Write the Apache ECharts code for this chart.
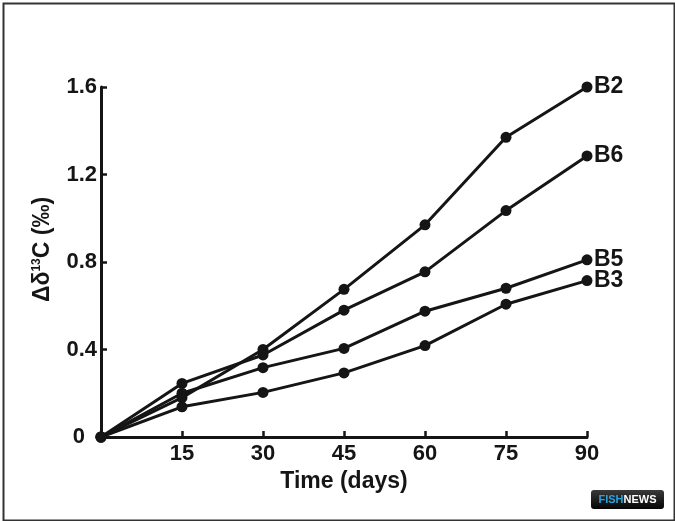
<!DOCTYPE html>
<html>
<head>
<meta charset="utf-8">
<script src="https://cdn.jsdelivr.net/npm/echarts@6/dist/echarts.min.js"></script>
<style>
  html, body { margin: 0; padding: 0; background: #fff; }
  #chart { width: 675px; height: 521px; }
</style>
</head>
<body>
<div id="chart"></div>
<script>
// Sampling days and the measured shift for each group
const days = [0, 15, 30, 45, 60, 75, 90];
const seriesNames = ['B2', 'B6', 'B5', 'B3'];
const b2 = [0, 0.18, 0.40, 0.675, 0.97, 1.37, 1.60];
const b6 = [0, 0.245, 0.375, 0.58, 0.755, 1.035, 1.285];
const b5 = [0, 0.20, 0.317, 0.405, 0.575, 0.68, 0.81];
const b3 = [0, 0.138, 0.204, 0.293, 0.418, 0.607, 0.715];
const xTicks = [15, 30, 45, 60, 75, 90];
const yTicks = [0, 0.4, 0.8, 1.2, 1.6];

const chart = echarts.init(document.getElementById('chart'));
const ink = '#151515';
const font = '"Liberation Sans", Arial, sans-serif';

// Pair up days with values for a value-type x axis
function pairs(values) {
  return values.map((v, i) => [days[i], v]);
}

const option = {
  backgroundColor: '#fff',
  animation: false,
  grid: { left: 101, right: 88, top: 87, bottom: 84 },
  xAxis: {
    type: 'value',
    min: 0,
    max: 90,
    interval: 15,
    name: 'Time (days)',
    nameLocation: 'middle',
    nameGap: 33,
    nameTextStyle: { color: ink, fontFamily: font, fontWeight: 'bold', fontSize: 23 },
    axisLine: { lineStyle: { color: ink, width: 3 } },
    axisTick: { inside: true, length: 6, lineStyle: { color: ink, width: 2.5 } },
    axisLabel: {
      color: ink, fontFamily: font, fontWeight: 'bold', fontSize: 22, margin: 6,
      formatter: v => (xTicks.indexOf(v) >= 0 ? String(v) : '')
    },
    splitLine: { show: false }
  },
  yAxis: {
    type: 'value',
    min: 0,
    max: 1.6,
    interval: 0.4,
    name: '{n|Δδ}{s|13}{n|C (‰)}',
    nameLocation: 'middle',
    nameGap: 47,
    nameRotate: 90,
    nameTextStyle: {
      color: ink, fontFamily: font, fontWeight: 'bold', fontSize: 22,
      padding: [0, 0, 0, 25],
      rich: {
        n: { color: ink, fontFamily: font, fontWeight: 'bold', fontSize: 23 },
        s: { color: ink, fontFamily: font, fontWeight: 'bold', fontSize: 12, verticalAlign: 'top', padding: [0, 0, 8, 0] }
      }
    },
    axisLine: { show: true, lineStyle: { color: ink, width: 3 } },
    axisTick: { show: true, inside: true, length: 6, lineStyle: { color: ink, width: 2.5 } },
    axisLabel: {
      color: ink, fontFamily: font, fontWeight: 'bold', fontSize: 22, margin: 4,
      formatter: v => {
        const t = yTicks.find(k => Math.abs(k - v) < 1e-6);
        if (t === undefined) return '';
        return t === 0 ? '{z|0}' : t.toFixed(1);
      },
      rich: {
        z: { color: ink, fontFamily: font, fontWeight: 'bold', fontSize: 22, padding: [0, 12, 0, 0] }
      }
    },
    splitLine: { show: false }
  },
  series: [b2, b6, b5, b3].map((vals, i) => ({
    name: seriesNames[i],
    type: 'line',
    data: pairs(vals),
    symbol: 'circle',
    symbolSize: 11,
    showAllSymbol: true,
    lineStyle: { color: ink, width: 3 },
    itemStyle: { color: ink },
    endLabel: {
      show: true,
      formatter: '{a}',
      distance: 7,
      color: ink,
      fontFamily: font,
      fontWeight: 'bold',
      fontSize: 23
    }
  })),
  graphic: [
    {
      type: 'rect',
      left: 1, top: 1,
      shape: { width: 671, height: 517 },
      style: { fill: 'none', stroke: '#333', lineWidth: 2 },
      silent: true
    },
    {
      type: 'group',
      left: 591, top: 490,
      children: [
        {
          type: 'rect',
          shape: { width: 73, height: 19, r: 3 },
          style: {
            fill: new echarts.graphic.LinearGradient(0, 0, 0, 1, [
              { offset: 0, color: '#3a3a3a' },
              { offset: 1, color: '#050505' }
            ])
          }
        },
        {
          type: 'text',
          x: 36.5, y: 10,
          style: {
            text: '{f|FISH}{w|NEWS}',
            align: 'center',
            verticalAlign: 'middle',
            rich: {
              f: { fill: '#2aa3dc', fontFamily: font, fontWeight: 'bold', fontSize: 11 },
              w: { fill: '#ffffff', fontFamily: font, fontWeight: 'bold', fontSize: 11 }
            }
          }
        }
      ]
    }
  ]
};

chart.setOption(option);

window.addEventListener('resize', function () {
  chart.resize();
});
</script>
</body>
</html>
